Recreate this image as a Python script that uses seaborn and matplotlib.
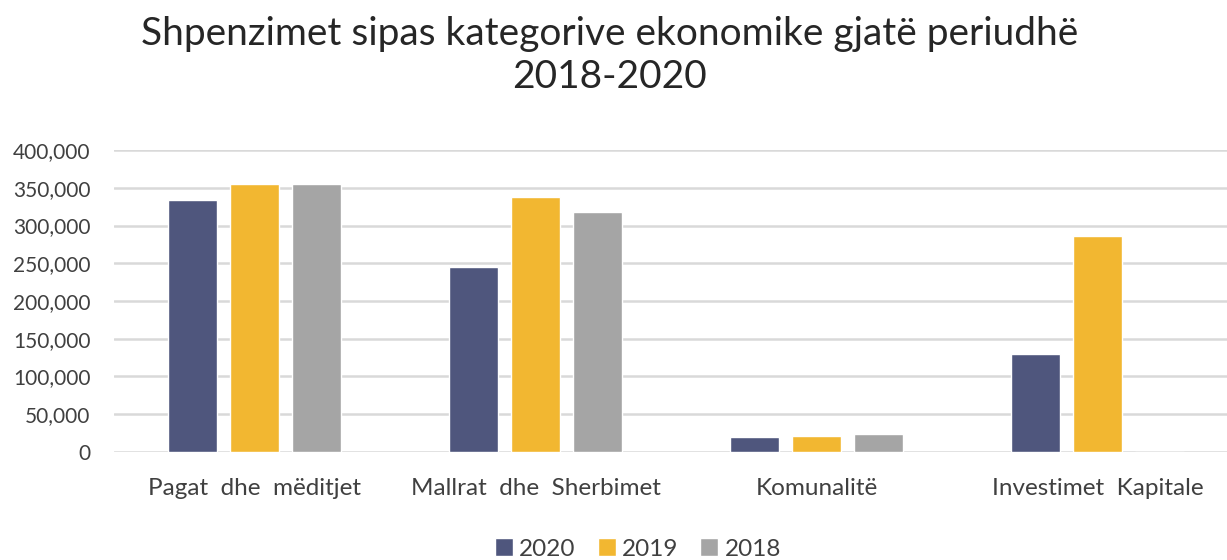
import pandas as pd
import matplotlib.pyplot as plt
import seaborn as sns
from matplotlib.ticker import FuncFormatter

# Data
categories = ["Pagat  dhe  mëditjet", "Mallrat  dhe  Sherbimet", "Komunalitë", "Investimet  Kapitale"]
years = ["2020", "2019", "2018"]
values_2020 = [333700, 244500, 19900, 130400]
values_2019 = [354500, 337300, 21200, 286400]
values_2018 = [355000, 317800, 24400, 0]
colors = ["#4F567D", "#F2B731", "#A5A5A5"]

df = pd.DataFrame({
    "Kategoria": categories * 3,
    "Viti": [y for y in years for _ in categories],
    "Vlera": values_2020 + values_2019 + values_2018,
})

sns.set_theme(style="white")
plt.rcParams["font.family"] = ["Lato", "DejaVu Sans"]

fig = plt.figure(figsize=(12.27, 5.6), dpi=100)
# plot area is wider than the picture, as in the cropped original
ax = fig.add_axes([0.093, 0.193, 0.916, 0.539])

sns.barplot(data=df, x="Kategoria", y="Vlera", hue="Viti", hue_order=years,
            palette=colors, width=0.665, gap=0.21, saturation=1, ax=ax)

ax.set_ylim(0, 400000)
ax.set_yticks(range(0, 400001, 50000))
ax.yaxis.set_major_formatter(FuncFormatter(lambda v, p: f"{int(v):,}"))
ax.grid(axis="y", color="#D9D9D9", linewidth=1.8)
ax.set_axisbelow(True)
for s in ax.spines.values():
    s.set_visible(False)
ax.tick_params(axis="y", length=0, pad=17, labelsize=15, labelcolor="#404040")
ax.tick_params(axis="x", length=0, pad=19, labelsize=17.5, labelcolor="#404040")
ax.set_xlabel("")
ax.set_ylabel("")

fig.suptitle("Shpenzimet sipas kategorive ekonomike gjatë periudhë\n2018-2020",
             x=0.497, y=0.972, fontsize=28, color="#262626", linespacing=1.25)

ax.legend(loc="lower center", bbox_to_anchor=(0.466, -0.43), ncol=3, frameon=False,
          fontsize=17.5, handlelength=0.75, handleheight=0.75, handletextpad=0.25,
          columnspacing=0.9, labelcolor="#404040")

fig.savefig("out.png", dpi=100)
